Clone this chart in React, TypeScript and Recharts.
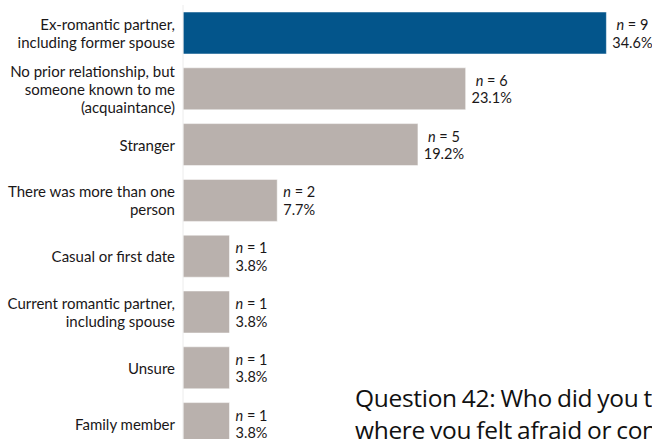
import React from "react"
import { BarChart, Bar, XAxis, YAxis, Cell, LabelList } from "recharts"

// who the respondents said the person was
const CATEGORIES = [
  "Ex-romantic partner,\nincluding former spouse",
  "No prior relationship, but\nsomeone known to me\n(acquaintance)",
  "Stranger",
  "There was more than one\nperson",
  "Casual or first date",
  "Current romantic partner,\nincluding spouse",
  "Unsure",
  "Family member",
]
const COUNTS = [9, 6, 5, 2, 1, 1, 1, 1]
const PERCENTS = [34.6, 23.1, 19.2, 7.7, 3.8, 3.8, 3.8, 3.8]

const BLUE = "#03558b"
const GREY = "#b9b1ad"
const INK = "#1a1718"
const FONT = "Lato, 'Open Sans', sans-serif"

const data = CATEGORIES.map((name, i) => ({ name, n: COUNTS[i], pct: PERCENTS[i] }))

const CategoryTick = (props: any) => {
  const { x, y, payload } = props
  const lines = String(payload.value).split("\n")
  const lh = 18
  const start = y - ((lines.length - 1) * lh) / 2
  return (
    <text x={x} y={start} textAnchor="end" fontSize={15} fill={INK} fontFamily={FONT}>
      {lines.map((l, i) => (
        <tspan key={i} x={x} y={start + i * lh} dominantBaseline="central">
          {l}
        </tspan>
      ))}
    </text>
  )
}

const ValueLabel = (props: any) => {
  const { x, y, width, height, index } = props
  const pctText = `${PERCENTS[index].toFixed(1)}%`
  const w = pctText.length * 8
  const cx = x + width + 6 + w / 2
  const cy = y + height / 2
  return (
    <g fontFamily={FONT} fontSize={14.5} fill={INK}>
      <text x={cx} y={cy - 9} textAnchor="middle" dominantBaseline="central">
        <tspan fontStyle="italic">n</tspan>
        <tspan> = {COUNTS[index]}</tspan>
      </text>
      <text x={cx} y={cy + 9} textAnchor="middle" dominantBaseline="central">
        {pctText}
      </text>
    </g>
  )
}

export default function App() {
  return (
    <div
      style={{
        position: "absolute",
        left: 0,
        top: 0,
        width: 652,
        height: 439,
        overflow: "hidden",
        background: "#fff",
        fontFamily: FONT,
      }}
    >
      <BarChart
        width={652}
        height={460}
        data={data}
        layout="vertical"
        margin={{ top: 5, right: 4, bottom: 8.6, left: 0 }}
        barSize={42}
      >
        <XAxis type="number" domain={[0, 38]} hide />
        <YAxis
          type="category"
          dataKey="name"
          width={183}
          axisLine={{ stroke: "#ececec" }}
          tickLine={false}
          tick={<CategoryTick />}
          interval={0}
        />
        <Bar dataKey="pct" isAnimationActive={false} stroke="#ffffff" strokeOpacity={0.5}>
          {data.map((d, i) => (
            <Cell key={d.name} fill={i === 0 ? BLUE : GREY} />
          ))}
          <LabelList dataKey="pct" content={<ValueLabel />} />
        </Bar>
      </BarChart>
      <div
        style={{
          position: "absolute",
          left: 355,
          top: 382,
          fontSize: 24.5,
          letterSpacing: -0.3,
          wordSpacing: -1,
          lineHeight: "32px",
          color: "#111",
          whiteSpace: "nowrap",
          fontFamily: "'Open Sans', sans-serif",
        }}
      >
        <div>Question 42: Who did you tell about the situation</div>
        <div>where you felt afraid or concerned for your safety?</div>
      </div>
    </div>
  )
}
